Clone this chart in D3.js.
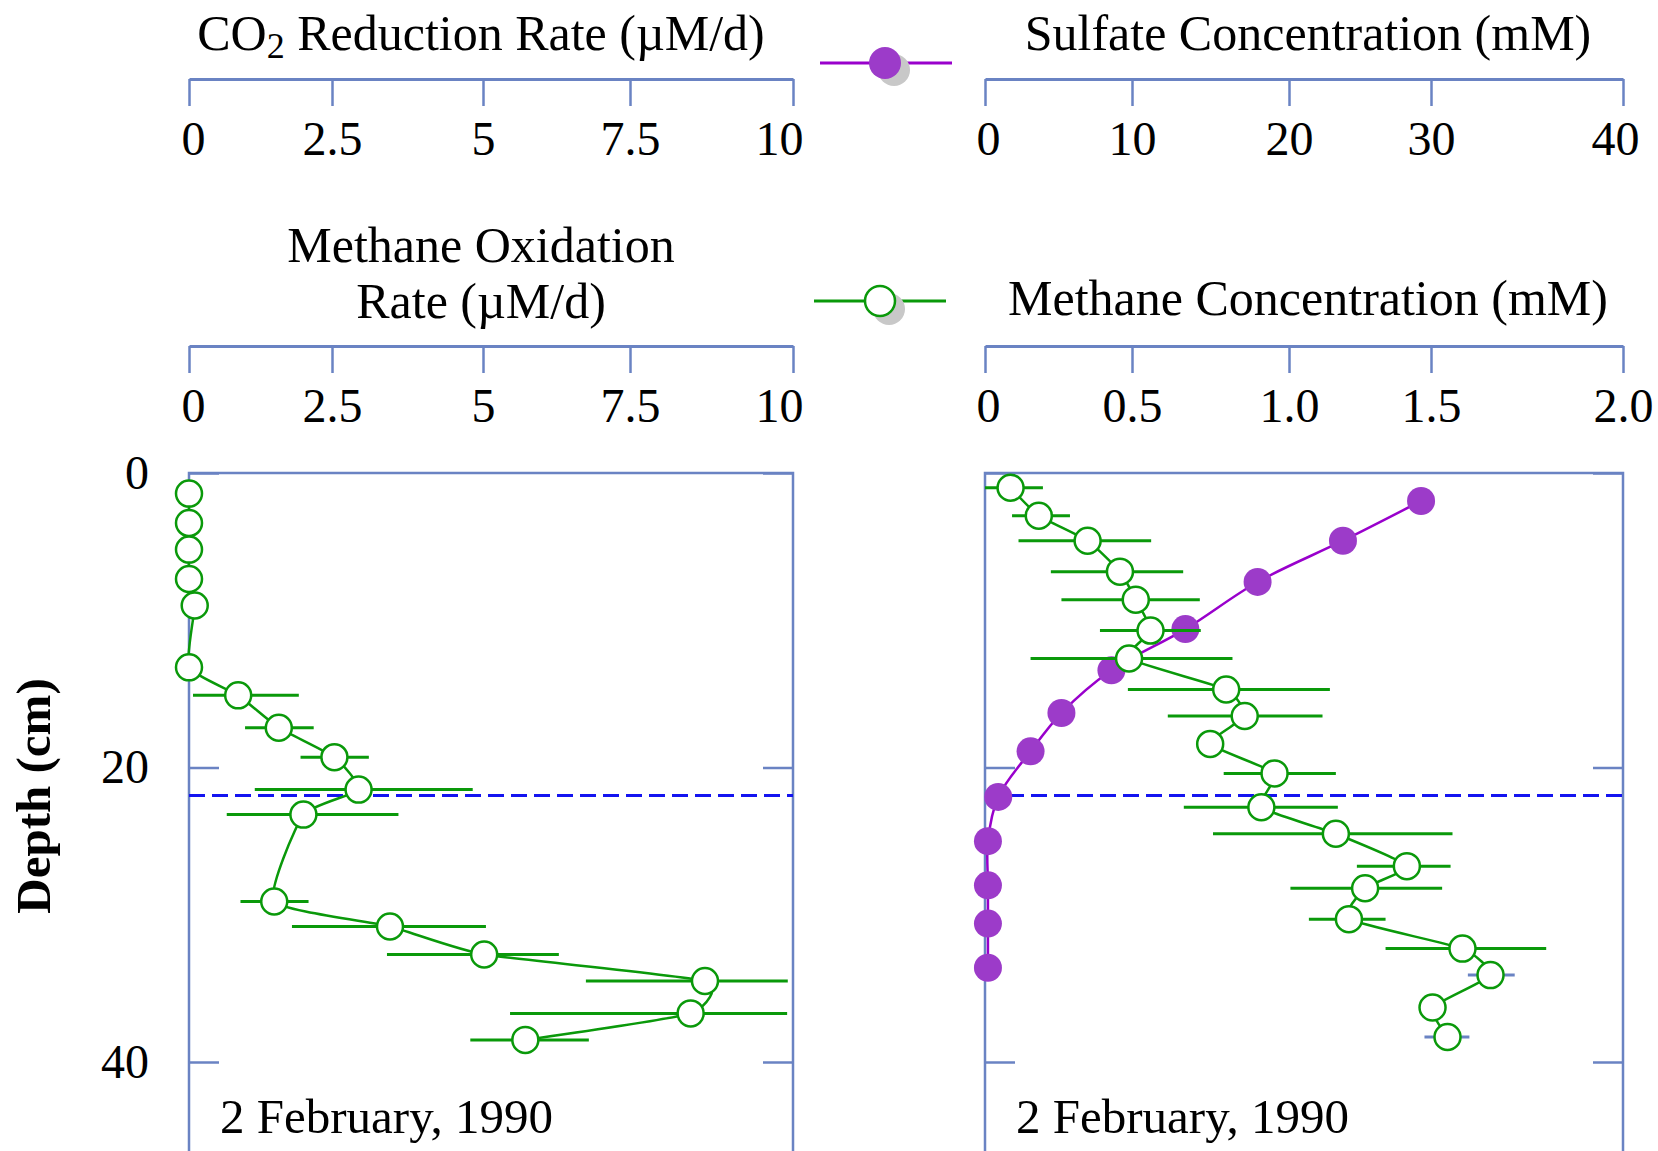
<!DOCTYPE html>
<html>
<head>
<meta charset="utf-8">
<script src="https://cdn.jsdelivr.net/npm/d3@7"></script>
<style>
  body { margin: 0; background: #fff; }
</style>
</head>
<body>
<script>
//=================================================
// data
//=================================================
// methane oxidation rate (uM/d), left panel
var moxDepth = [1.4, 3.4, 5.2, 7.2, 9.0, 13.2, 15.1, 17.3, 19.3, 21.5, 23.2, 29.1, 30.8, 32.7, 34.5, 36.7, 38.5];
var moxRate  = [0, 0, 0, 0, 0.1, 0, 0.86, 1.57, 2.54, 2.94, 2.0, 1.49, 3.46, 5.02, 8.65, 8.43, 5.72];
var moxLow   = [null, null, null, null, null, null, 0.07, 0.98, 1.95, 1.15, 0.66, 0.9, 1.8, 3.41, 6.75, 5.46, 4.79];
var moxHigh  = [null, null, null, null, null, null, 1.92, 2.18, 3.11, 4.83, 3.6, 2.09, 5.05, 6.29, 9.92, 9.91, 6.8];

// sulfate concentration (mM), right panel
var so4Depth = [1.9, 4.6, 7.4, 10.6, 13.4, 16.3, 18.9, 22.0, 25.0, 28.0, 30.6, 33.6];
var so4Conc  = [29.3, 23.8, 18.0, 13.4, 8.6, 5.2, 3.1, 0.9, 0.2, 0.2, 0.2, 0.2];

// methane concentration (mM), right panel
var ch4Depth = [1.0, 2.9, 4.6, 6.7, 8.6, 10.7, 12.6, 14.7, 16.5, 18.4, 20.4, 22.7, 24.5, 26.7, 28.2, 30.3, 32.3, 34.1, 36.3, 38.3];
var ch4Conc  = [0.087, 0.183, 0.349, 0.459, 0.512, 0.559, 0.49, 0.80, 0.859, 0.749, 0.954, 0.912, 1.165, 1.415, 1.268, 1.211, 1.582, 1.655, 1.504, 1.543];
var ch4Low   = [0.0, 0.092, 0.114, 0.224, 0.26, 0.391, 0.155, 0.486, 0.614, null, 0.792, 0.665, 0.758, 1.239, 1.005, 1.07, 1.34, 1.596, null, 1.477];
var ch4High  = [0.197, 0.289, 0.561, 0.663, 0.716, 0.719, 0.82, 1.144, 1.118, null, 1.165, 1.172, 1.556, 1.551, 1.529, 1.34, 1.80, 1.718, null, 1.60];

// sulfate-methane transition depth (cm), dashed line
var smtzDepth = 21.9;

// ticks
var rateTicks = [0, 2.5, 5, 7.5, 10];
var rateTickLabels = ["0", "2.5", "5", "7.5", "10"];
var so4Ticks = [0, 10, 20, 30, 40];
var so4TickLabels = ["0", "10", "20", "30", "40"];
var ch4Ticks = [0, 0.5, 1.0, 1.5, 2.0];
var ch4TickLabels = ["0", "0.5", "1.0", "1.5", "2.0"];
var depthTicks = [0, 20, 40];
var depthTickLabels = ["0", "20", "40"];

var dateLabel = "2 February, 1990";

//=================================================
// layout / style
//=================================================
var width = 1658, height = 1151;
var serif = "'Liberation Serif', 'Times New Roman', serif";
var axisColor = "#6a83c3";
var green = "#0a990a";
var purpleLine = "#9900cc";
var purpleFill = "#9c3bc9";

// the original axes have slightly uneven tick spacing, so the scales follow it
var leftRange = [189, 332, 483, 630, 793];
var rightRange = [985, 1132, 1289, 1431, 1623];

var svg = d3.select("body")
    .append("svg")
    .attr("width", width)
    .attr("height", height);

var xRate = d3.scaleLinear().domain(rateTicks).range(leftRange);
var xSO4 = d3.scaleLinear().domain(so4Ticks).range(rightRange);
var xCH4 = d3.scaleLinear().domain(ch4Ticks).range(rightRange);
var yDepth = d3.scaleLinear().domain([0, 40]).range([473, 1062]);

//=================================================
// top axes
//=================================================
function topAxis(scale, ticks, labels, y, firstShift, lastShift) {
    var g = svg.append("g")
        .attr("transform", "translate(0," + y + ")")
        .call(d3.axisBottom(scale)
            .tickValues(ticks)
            .tickFormat(function (d, i) { return labels[i]; })
            .tickSize(27)
            .tickSizeOuter(0)
            .tickPadding(15));
    g.select(".domain").attr("stroke", axisColor).attr("stroke-width", 3);
    g.selectAll(".tick line").attr("stroke", axisColor).attr("stroke-width", 2.5);
    g.selectAll(".tick text")
        .attr("font-family", serif)
        .attr("font-size", 48)
        .attr("fill", "#000")
        .attr("dx", function (d, i) {
            if (i == 0) return firstShift;
            if (i == ticks.length - 1) return lastShift;
            return 0;
        });
}

topAxis(xRate, rateTicks, rateTickLabels, 79, 4, -14);
topAxis(xSO4, so4Ticks, so4TickLabels, 79, 3, -8);
topAxis(xRate, rateTicks, rateTickLabels, 346, 4, -14);
topAxis(xCH4, ch4Ticks, ch4TickLabels, 346, 3, 0);

function title(x, y, txt) {
    return svg.append("text")
        .attr("x", x)
        .attr("y", y)
        .attr("text-anchor", "middle")
        .attr("font-family", serif)
        .attr("font-size", 50)
        .text(txt);
}

var co2 = title(481, 50, "CO");
co2.append("tspan").attr("font-size", 36).attr("dy", 8).text("2");
co2.append("tspan").attr("dy", -8).text(" Reduction Rate (\u00b5M/d)");
title(481, 262, "Methane Oxidation");
title(481, 318, "Rate (\u00b5M/d)");
title(1308, 50, "Sulfate Concentration (mM)");
title(1308, 315, "Methane Concentration (mM)");

//=================================================
// legend symbols
//=================================================
var legendSO4 = svg.append("g");
legendSO4.append("line")
    .attr("x1", 820).attr("x2", 952).attr("y1", 63).attr("y2", 63)
    .attr("stroke", purpleLine).attr("stroke-width", 3);
legendSO4.append("circle").attr("cx", 894).attr("cy", 70).attr("r", 16).attr("fill", "#c8c8c8");
legendSO4.append("circle").attr("cx", 885).attr("cy", 63).attr("r", 16).attr("fill", purpleFill);

var legendCH4 = svg.append("g");
legendCH4.append("line")
    .attr("x1", 814).attr("x2", 946).attr("y1", 301).attr("y2", 301)
    .attr("stroke", green).attr("stroke-width", 3);
legendCH4.append("circle").attr("cx", 889).attr("cy", 309).attr("r", 16).attr("fill", "#c8c8c8");
legendCH4.append("circle").attr("cx", 880).attr("cy", 301).attr("r", 15)
    .attr("fill", "#fff").attr("stroke", green).attr("stroke-width", 2.5);

//=================================================
// depth panels
//=================================================
function panel(x0, x1, showLabels) {
    svg.append("rect")
        .attr("x", x0).attr("y", yDepth(0))
        .attr("width", x1 - x0).attr("height", 800)
        .attr("fill", "none")
        .attr("stroke", axisColor)
        .attr("stroke-width", 2.5);

    var gl = svg.append("g")
        .attr("transform", "translate(" + x0 + ",0)")
        .call(d3.axisLeft(yDepth)
            .tickValues(depthTicks)
            .tickFormat(function (d, i) { return showLabels ? depthTickLabels[i] : ""; })
            .tickSize(-30)
            .tickSizeOuter(0)
            .tickPadding(40));
    var gr = svg.append("g")
        .attr("transform", "translate(" + x1 + ",0)")
        .call(d3.axisRight(yDepth)
            .tickValues(depthTicks)
            .tickFormat("")
            .tickSize(-30)
            .tickSizeOuter(0));
    [gl, gr].forEach(function (g) {
        g.select(".domain").remove();
        g.selectAll(".tick line").attr("stroke", axisColor).attr("stroke-width", 2.5);
        g.selectAll(".tick text")
            .attr("font-family", serif)
            .attr("font-size", 48)
            .attr("fill", "#000");
    });

    svg.append("line")
        .attr("x1", x0).attr("x2", x1)
        .attr("y1", yDepth(smtzDepth)).attr("y2", yDepth(smtzDepth))
        .attr("stroke", "#1414f0")
        .attr("stroke-width", 3)
        .attr("stroke-dasharray", "16,7");

    svg.append("text")
        .attr("x", x0 + 31)
        .attr("y", 1133)
        .attr("font-family", serif)
        .attr("font-size", 49)
        .text(dateLabel);
}

panel(leftRange[0], leftRange[leftRange.length - 1], true);
panel(rightRange[0], rightRange[rightRange.length - 1], false);

svg.append("text")
    .attr("transform", "translate(50,796) rotate(-90)")
    .attr("text-anchor", "middle")
    .attr("font-family", serif)
    .attr("font-weight", "bold")
    .attr("font-size", 49)
    .text("Depth (cm)");

//=================================================
// series
//=================================================
// gentle smoothing: mostly straight runs, soft bends where the profile turns
var smooth = d3.curveCardinal.tension(0.5);

function profile(x, depth, value, low, high, barColor) {
    var pts = depth.map(function (d, i) {
        return { depth: d, value: value[i], lo: low[i], hi: high[i], i: i };
    });
    var line = d3.line()
        .curve(smooth)
        .x(function (d) { return x(d.value); })
        .y(function (d) { return yDepth(d.depth); });
    var g = svg.append("g");
    g.append("path")
        .datum(pts)
        .attr("d", line)
        .attr("fill", "none")
        .attr("stroke", green)
        .attr("stroke-width", 2.5);
    g.selectAll(".err")
        .data(pts.filter(function (d) { return d.lo != null; }))
        .enter().append("line")
        .attr("class", "err")
        .attr("x1", function (d) { return x(d.lo); })
        .attr("x2", function (d) { return x(d.hi); })
        .attr("y1", function (d) { return yDepth(d.depth); })
        .attr("y2", function (d) { return yDepth(d.depth); })
        .attr("stroke", function (d) { return barColor(d.i); })
        .attr("stroke-width", 3);
    g.selectAll("circle")
        .data(pts)
        .enter().append("circle")
        .attr("cx", function (d) { return x(d.value); })
        .attr("cy", function (d) { return yDepth(d.depth); })
        .attr("r", 13)
        .attr("fill", "#fff")
        .attr("stroke", green)
        .attr("stroke-width", 2.5);
}

// left panel: methane oxidation rate
profile(xRate, moxDepth, moxRate, moxLow, moxHigh, function () { return green; });

// right panel: sulfate first, methane on top
var so4 = so4Depth.map(function (d, i) { return { depth: d, value: so4Conc[i] }; });
var so4Line = d3.line()
    .curve(d3.curveCatmullRom.alpha(0.5))
    .x(function (d) { return xSO4(d.value); })
    .y(function (d) { return yDepth(d.depth); });
svg.append("path")
    .datum(so4)
    .attr("d", so4Line)
    .attr("fill", "none")
    .attr("stroke", purpleLine)
    .attr("stroke-width", 2.5);
svg.append("g").selectAll("circle")
    .data(so4)
    .enter().append("circle")
    .attr("cx", function (d) { return xSO4(d.value); })
    .attr("cy", function (d) { return yDepth(d.depth); })
    .attr("r", 14)
    .attr("fill", purpleFill);

// two of the deep methane bars are drawn in the axis colour in the original
var mutedBars = [17, 19];
profile(xCH4, ch4Depth, ch4Conc, ch4Low, ch4High, function (i) {
    return mutedBars.indexOf(i) >= 0 ? axisColor : green;
});
</script>
</body>
</html>
